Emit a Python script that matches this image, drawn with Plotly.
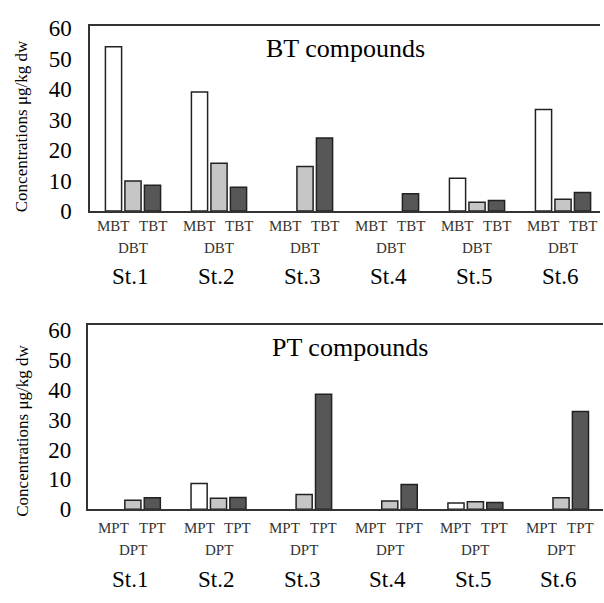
import plotly.graph_objects as go

stations = ["St.1", "St.2", "St.3", "St.4", "St.5", "St.6"]
bt_labels = ["MBT", "DBT", "TBT"]
pt_labels = ["MPT", "DPT", "TPT"]

MBT = [54.0, 39.1, 0, 0, 10.8, 33.4]
DBT = [9.9, 15.7, 14.6, 0, 2.9, 3.9]
TBT = [8.5, 7.8, 24.0, 5.7, 3.5, 6.1]

MPT = [0, 8.6, 0, 0, 2.1, 0]
DPT = [3.0, 3.7, 5.0, 2.8, 2.5, 3.9]
TPT = [3.9, 4.0, 38.5, 8.3, 2.3, 32.7]

yticks = [0, 10, 20, 30, 40, 50, 60]

W, H = 604, 603
FONT = "Liberation Serif, serif"
fills = ["#ffffff", "#c6c6c6", "#575757"]

fig = go.Figure()
idx = list(range(len(stations)))

def nz(vals):
    return [v if v > 0 else None for v in vals]

for series, col in zip([MBT, DBT, TBT], fills):
    fig.add_trace(go.Bar(x=idx, y=nz(series), marker=dict(color=col, line=dict(color="#222", width=1.5)),
                         xaxis="x", yaxis="y", offsetgroup=str(col), showlegend=False))
for series, col in zip([MPT, DPT, TPT], fills):
    fig.add_trace(go.Bar(x=idx, y=nz(series), marker=dict(color=col, line=dict(color="#222", width=1.5)),
                         xaxis="x2", yaxis="y2", offsetgroup=str(col), showlegend=False))

def py(p):
    return 1 - p / H

axis_common = dict(showline=True, linecolor="#333", linewidth=1.5, showgrid=False, zeroline=False)

fig.update_layout(
    width=W, height=H, margin=dict(l=0, r=0, t=0, b=0),
    paper_bgcolor="white", plot_bgcolor="white",
    barmode="group", bargap=0.32, bargroupgap=0.17,
    font=dict(family=FONT, color="black"),
    xaxis=dict(domain=[90 / W, 600 / W], range=[-0.5, 5.43], mirror=True, showticklabels=False,
               anchor="y", **axis_common),
    yaxis=dict(domain=[py(209.7), py(17.3)], range=[0, 60.9], tickvals=yticks, ticks="",
               ticklabelstandoff=12, tickfont=dict(size=23, family=FONT, color="black"),
               anchor="x", **axis_common),
    xaxis2=dict(domain=[87.5 / W, 603 / W], range=[-0.53, 5.49], mirror=True, showticklabels=False,
                anchor="y2", **axis_common),
    yaxis2=dict(domain=[py(519.3), py(328.3)], range=[0, 61.5], tickvals=yticks, ticks="",
                ticklabelstandoff=10, tickfont=dict(size=23, family=FONT, color="black"),
                anchor="x2", **axis_common),
)

ann = []
off = 0.227

def a(x, y, text, size, color="black", xref="paper", angle=0):
    ann.append(dict(x=x, y=y, xref=xref, yref="paper", text=text, showarrow=False,
                    xanchor="center", yanchor="middle", textangle=angle,
                    font=dict(size=size, color=color, family=FONT)))

def label_rows(xref, labels, y1, y2, y3):
    for i, st in enumerate(stations):
        a(i - off, py(y1), labels[0], 15, "#333", xref)
        a(i + off, py(y1), labels[2], 15, "#333", xref)
        a(i, py(y2), labels[1], 15, "#333", xref)
        a(i - 0.03, py(y3), st, 23, "black", xref)

label_rows("x", bt_labels, 225.7, 248, 277.7)
label_rows("x2", pt_labels, 538.3, 561.7, 591.7)

a(345 / W, py(41), "BT compounds", 26)
a(350 / W, py(351), "PT compounds", 26)
a(21.7 / W, py(122), "Concentrations μg/kg dw", 17, angle=-90)
a(21.7 / W, py(438), "Concentrations μg/kg dw", 17, angle=-90)

fig.update_layout(annotations=ann)
fig.write_html("out.html")
